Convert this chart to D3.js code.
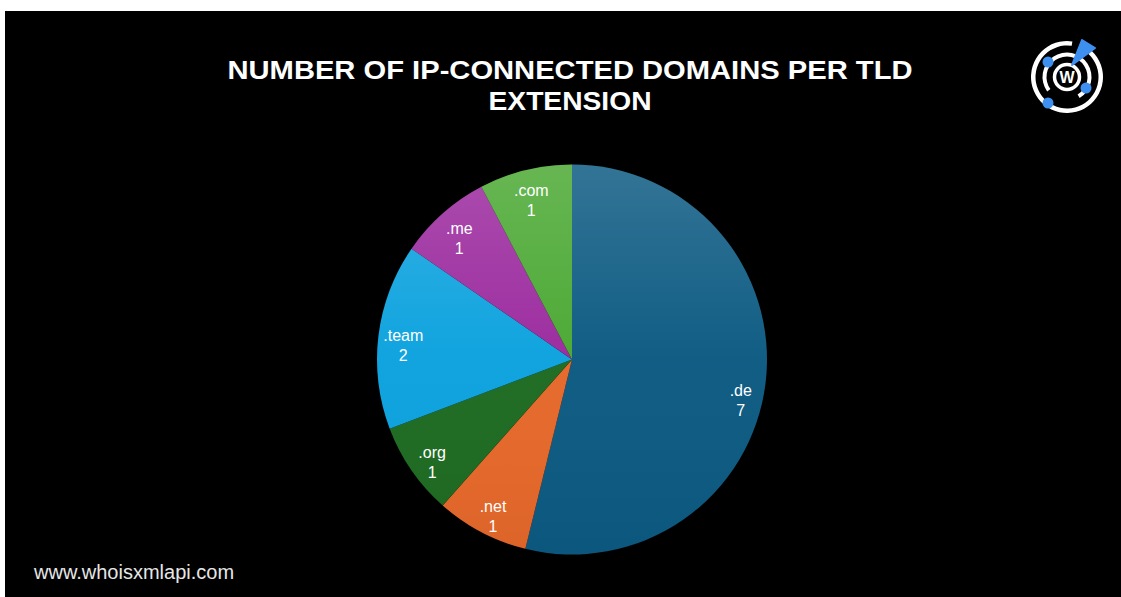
<!DOCTYPE html>
<html>
<head>
<meta charset="utf-8">
<script src="https://cdn.jsdelivr.net/npm/d3@7"></script>
<style>
  html, body { margin: 0; padding: 0; background: #fff; }
  svg { display: block; }
</style>
</head>
<body>
<script>
/* ---------------------------------- data ---------------------------------- */
const tlds = [".de", ".net", ".org", ".team", ".me", ".com"];
const counts = [7, 1, 1, 2, 1, 1];
const sliceColors = ["#0c5a82", "#e6682a", "#1e6b22", "#0ca2de", "#9b2a9e", "#4aa832"];
const titleLines = ["NUMBER OF IP-CONNECTED DOMAINS PER TLD", "EXTENSION"];

/* ---------------------------- document size ------------------------------ */
const width = 1121, height = 597;
const cx = 572, cy = 359.5, radius = 195;

const svg = d3.select("body").append("svg").attr("width", width).attr("height", height);

// black slide area (white strip on top/left as in the screenshot)
svg.append("rect").attr("x", 5).attr("y", 11).attr("width", width - 5).attr("height", height - 11).attr("fill", "#000");

/* ---------------------------------- title --------------------------------- */
svg.append("g").selectAll("text").data(titleLines).enter().append("text")
    .attr("x", 570)
    .attr("y", (d, i) => 79 + i * 31)
    .attr("text-anchor", "middle")
    .attr("font-family", "Liberation Sans, Arial, sans-serif")
    .attr("font-weight", "bold")
    .attr("font-size", 26)
    .attr("textLength", (d, i) => i === 0 ? 685 : 163)
    .attr("lengthAdjust", "spacingAndGlyphs")
    .attr("fill", "#fff")
    .text(d => d);

/* ----------------------------------- pie ---------------------------------- */
const data = tlds.map((t, i) => ({ tld: t, value: counts[i] }));
const color = d3.scaleOrdinal().domain(tlds).range(sliceColors);
const pie = d3.pie().sort(null).value(d => d.value);
const arc = d3.arc().innerRadius(0).outerRadius(radius);
const labelArc = d3.arc().innerRadius(2 * 170 - radius).outerRadius(radius);

const defs = svg.append("defs");
const shine = defs.append("linearGradient").attr("id", "shine")
    .attr("x1", 0).attr("y1", 0).attr("x2", 0).attr("y2", 1);
shine.append("stop").attr("offset", "0%").attr("stop-color", "#fff").attr("stop-opacity", 0.16);
shine.append("stop").attr("offset", "50%").attr("stop-color", "#fff").attr("stop-opacity", 0.02);
shine.append("stop").attr("offset", "100%").attr("stop-color", "#000").attr("stop-opacity", 0.04);

const g = svg.append("g").attr("transform", `translate(${cx},${cy})`);
const arcs = pie(data);

g.selectAll("path.slice").data(arcs).enter().append("path")
    .attr("class", "slice")
    .attr("d", arc)
    .attr("fill", d => color(d.data.tld));

// soft vertical sheen over the whole pie
g.append("circle").attr("r", radius).attr("fill", "url(#shine)");

//labels: name and value (large slice label sits a bit lower, like the original)
const lbl = g.selectAll("text.lbl").data(arcs).enter().append("text")
    .attr("class", "lbl")
    .attr("transform", d => {
        const c = labelArc.centroid(d);
        const extra = (d.endAngle - d.startAngle) > Math.PI ? 14 : 0;
        return `translate(${c[0]},${c[1] + 5 + extra})`;
    })
    .attr("text-anchor", "middle")
    .attr("font-family", "Liberation Sans, Arial, sans-serif")
    .attr("font-size", 16)
    .attr("fill", "#fff");
lbl.append("tspan").attr("x", 0).attr("dy", "-0.2em").text(d => d.data.tld);
lbl.append("tspan").attr("x", 0).attr("dy", "1.25em").text(d => d.data.value);

/* --------------------------------- footer --------------------------------- */
svg.append("text")
    .attr("x", 34).attr("y", 579)
    .attr("font-family", "Liberation Sans, Arial, sans-serif")
    .attr("font-size", 20)
    .attr("fill", "#e6e6e6")
    .text("www.whoisxmlapi.com");

/* ---------------------------------- logo ---------------------------------- */
const logo = svg.append("g").attr("transform", "translate(1067,77)");
const blue = "#3d8ff0";
logo.append("path")
    .attr("d", d3.arc().innerRadius(31.5).outerRadius(36).startAngle(0.75).endAngle(2 * Math.PI + 0.15)())
    .attr("fill", "#fff");
logo.append("path")
    .attr("d", d3.arc().innerRadius(20.5).outerRadius(24.5).startAngle(-2.2).endAngle(2.6)())
    .attr("fill", "#fff");
logo.append("circle").attr("r", 12.5).attr("fill", "none").attr("stroke", "#fff").attr("stroke-width", 3.5);
logo.append("text").attr("y", 6).attr("text-anchor", "middle")
    .attr("font-family", "Liberation Sans, Arial, sans-serif").attr("font-weight", "bold")
    .attr("font-size", 16).attr("fill", "#fff").text("W");
logo.append("path").attr("d", "M5,-12 L15,-37 L28,-29 Z").attr("fill", blue)
    .attr("stroke", blue).attr("stroke-width", 2).attr("stroke-linejoin", "round");
[[-19, -15], [19, 11], [-19, 26]].forEach(p => {
    logo.append("circle").attr("cx", p[0]).attr("cy", p[1]).attr("r", 5.5).attr("fill", blue);
});
</script>
</body>
</html>
